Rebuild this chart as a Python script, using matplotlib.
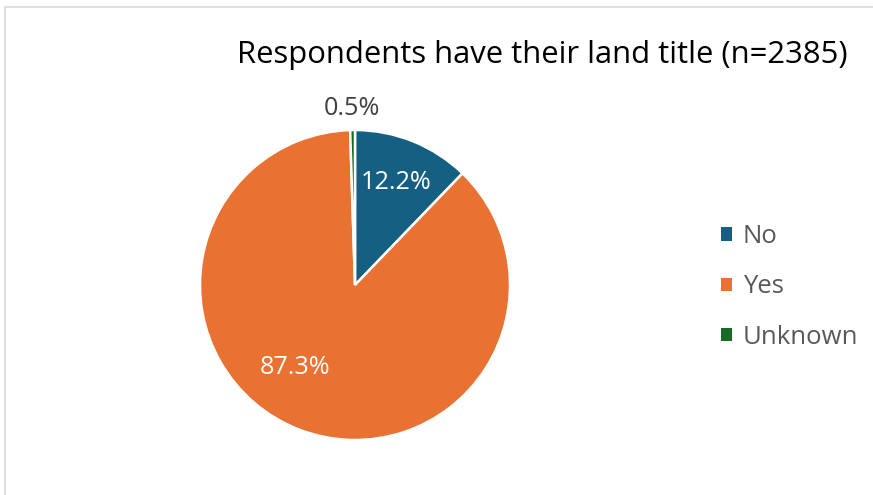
import numpy as np
import matplotlib.pyplot as plt
from matplotlib.lines import Line2D

categories = ["No", "Yes", "Unknown"]
shares = [12.2, 87.3, 0.5]
colors = ["#156082", "#E97132", "#196B24"]
title = "Respondents have their land title (n=2385)"

plt.rcParams["font.family"] = ["Open Sans", "DejaVu Sans"]

W, H = 873, 495
fig = plt.figure(figsize=(W / 100, H / 100), dpi=100)

# light frame along the left and top edges of the chart area
fig.add_artist(Line2D([4.5 / W, 4.5 / W, 1.0], [0.0, 1 - 6.5 / H, 1 - 6.5 / H],
                      transform=fig.transFigure, color="#d9d9d9", linewidth=1.2))

cx, cy, r = 355, 285, 155
ax = fig.add_axes([(cx - r) / W, (H - cy - r) / H, 2 * r / W, 2 * r / H])
wedges, _ = ax.pie(shares, colors=colors, startangle=90, counterclock=False,
                   wedgeprops=dict(edgecolor="white", linewidth=1.8))
ax.set_xlim(-1, 1)
ax.set_ylim(-1, 1)
ax.set_aspect("equal")

# data labels: inside for the large slices, outside for the thin one
label_pos = {0: (0.71, None), 1: (0.66, -126), 2: (1.14, None)}
for i, w in enumerate(wedges):
    dist, ang = label_pos[i]
    if ang is None:
        ang = (w.theta1 + w.theta2) / 2
    x = dist * np.cos(np.radians(ang))
    y = dist * np.sin(np.radians(ang))
    inside = dist < 1
    ax.text(x, y, f"{shares[i]:.1f}%", ha="center", va="center", fontsize=18.2,
            color="white" if inside else "#404040", clip_on=False)

fig.text(542 / W, 1 - 55 / H, title, ha="center", va="center", fontsize=22.3, color="black")

handles = [plt.Rectangle((0, 0), 1, 1, facecolor=c) for c in colors]
fig.legend(handles, categories, loc="center left", bbox_to_anchor=(721 / W, 1 - 287 / H),
           frameon=False, fontsize=18.5, labelcolor="#595959", handlelength=0.42, handleheight=0.42,
           handletextpad=0.42, labelspacing=0.98, borderpad=0, borderaxespad=0)

fig.savefig("out.png", dpi=100)
